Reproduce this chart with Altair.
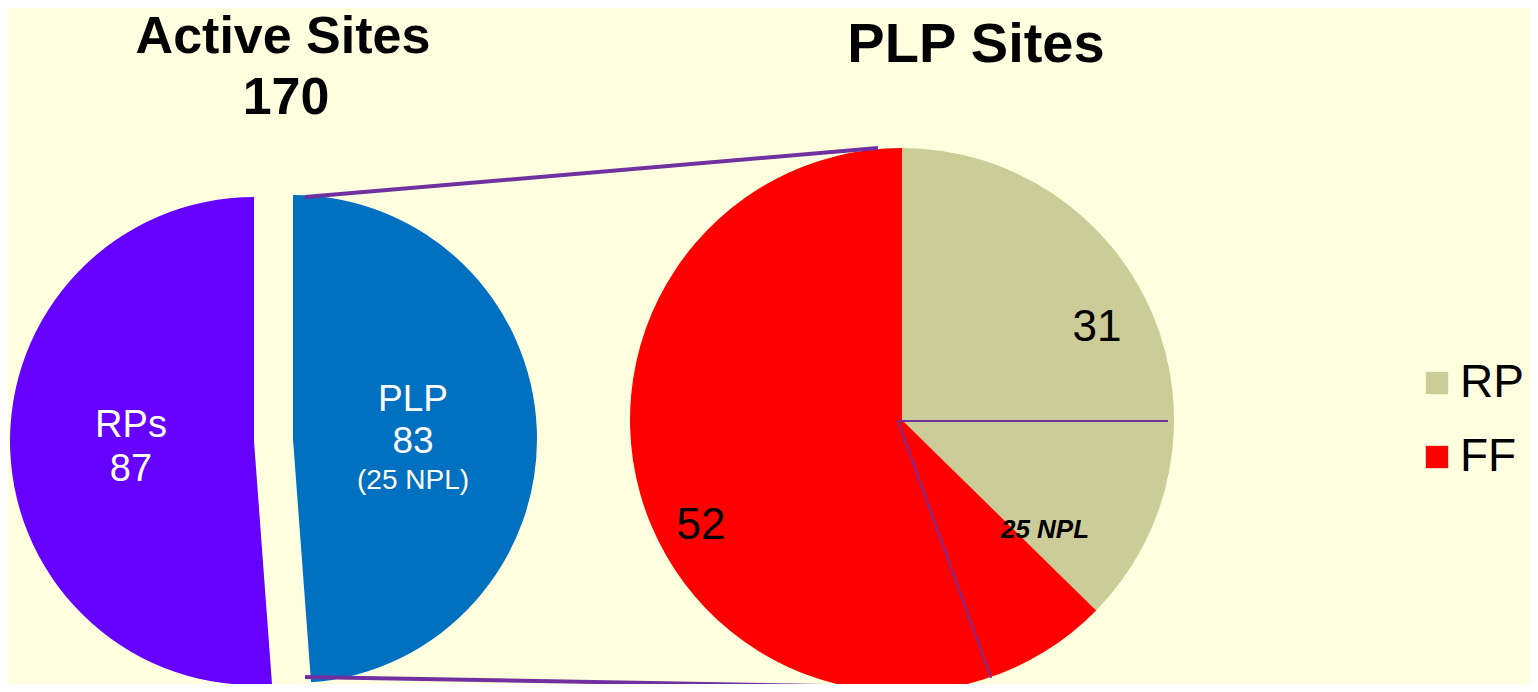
import math
import altair as alt
import pandas as pd

# ---- data ----
active_labels = ["PLP", "RPs"]
active_values = [83, 87]
active_total = [170]
plp_labels = ["RP", "FF"]
plp_values = [31, 52]
npl_note = ["(25 NPL)", "25 NPL"]
titles = ["Active Sites", "PLP Sites"]

FONT = "Liberation Sans"
BG = "#FFFFE0"
LINE = "#7030A0"


def pie_table(labels, values):
    total = sum(values)
    rows, acc = [], 0
    for lab, val in zip(labels, values):
        rows.append({"label": lab, "value": val,
                     "start": acc / total, "end": (acc + val) / total})
        acc += val
    return pd.DataFrame(rows)


active_df = pie_table(active_labels, active_values)
plp_df = pie_table(plp_labels, plp_values)
one = pd.DataFrame({"k": [0]})

theta_scale = alt.Scale(domain=[0, 1], range=[0, 2 * math.pi])


def slice_layer(df, label, color, cx, cy, r):
    return (
        alt.Chart(df)
        .transform_filter(alt.datum.label == label)
        .mark_arc(radius=r, fill=color, stroke=None)
        .encode(
            theta=alt.Theta("start:Q", scale=theta_scale, stack=None),
            theta2="end:Q",
            x=alt.value(cx),
            y=alt.value(cy),
        )
    )


def text_layer(txt, x, y, size, bold=False, italic=False, color="black"):
    return (
        alt.Chart(one)
        .mark_text(
            text=txt, font=FONT, fontSize=size,
            fontWeight="bold" if bold else "normal",
            fontStyle="italic" if italic else "normal",
            color=color, align="center", baseline="alphabetic",
        )
        .encode(x=alt.value(x), y=alt.value(y))
    )


def line_layer(x1, y1, x2, y2, w):
    return (
        alt.Chart(one)
        .mark_rule(color=LINE, strokeWidth=w)
        .encode(x=alt.value(x1), y=alt.value(y1), x2=alt.value(x2), y2=alt.value(y2))
    )


left_plp = slice_layer(active_df, "PLP", "#0070C0", 285, 431, 244)
left_rps = slice_layer(active_df, "RPs", "#6600FF", 246, 433, 244)

right_pie = (
    alt.Chart(plp_df)
    .mark_arc(radius=272, stroke=None)
    .encode(
        theta=alt.Theta("start:Q", scale=theta_scale, stack=None),
        theta2="end:Q",
        color=alt.Color(
            "label:N",
            scale=alt.Scale(domain=plp_labels, range=["#CCCC99", "#FF0000"]),
            legend=alt.Legend(
                orient="none", legendX=1406, legendY=352, title=None,
                symbolType="square", symbolSize=500, symbolStrokeWidth=0,
                symbolOpacity=1, labelFontSize=46, labelFont=FONT,
                labelColor="black", labelOffset=0, rowPadding=28,
                padding=0, labelLimit=300,
            ),
        ),
        x=alt.value(894),
        y=alt.value(412),
    )
)

layers = [
    left_rps, left_plp, right_pie,
    line_layer(297, 189, 870, 140, 4),
    line_layer(297, 669, 992, 681, 4),
    line_layer(890, 413, 1160, 413, 2),
    line_layer(890, 413, 983, 670, 2),
    text_layer(titles[0], 275, 45, 52, bold=True),
    text_layer(str(active_total[0]), 278, 106, 52, bold=True),
    text_layer(titles[1], 968, 54, 56, bold=True),
    text_layer(active_labels[1], 123, 429, 38, color="white"),
    text_layer(str(active_values[1]), 123, 473, 38, color="white"),
    text_layer(active_labels[0], 405, 403, 37, color="white"),
    text_layer(str(active_values[0]), 405, 445, 37, color="white"),
    text_layer(npl_note[0], 405, 481, 28, color="white"),
    text_layer(str(plp_values[0]), 1089, 333, 44),
    text_layer(str(plp_values[1]), 693, 531, 44),
    text_layer(npl_note[1], 1037, 530, 26, bold=True, italic=True),
]

chart = (
    alt.layer(*layers)
    .properties(
        width=1522, height=676, background=BG, padding=0,
        autosize=alt.AutoSizeParams(type="none"),
    )
    .configure_view(stroke=None)
)

chart.save("out.html", embed_options={"renderer": "svg", "actions": False})
